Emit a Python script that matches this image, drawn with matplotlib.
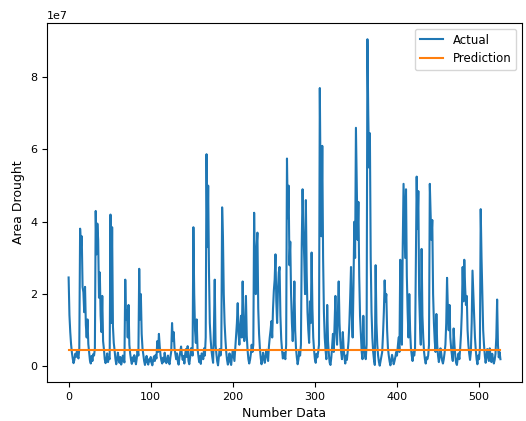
import numpy as np
import matplotlib
matplotlib.use("Agg")
import matplotlib.pyplot as plt

# drought area per record, in millions
actual_m = [
    24.6, 14.2, 9.5, 6.1, 3.8, 2.2, 0.9, 1.8, 3.5, 2.6,
    4.1, 3.0, 2.2, 5.0, 38.1, 33.0, 36.0, 22.0, 20.5, 15.0,
    22.0, 11.5, 8.0, 13.0, 6.2, 4.0, 1.6, 0.8, 2.9, 1.5,
    3.4, 3.0, 5.0, 43.0, 31.0, 39.5, 35.0, 19.0, 26.0, 14.0,
    9.5, 19.5, 7.0, 4.8, 2.0, 0.9, 1.7, 3.6, 1.2, 2.5,
    2.0, 42.0, 12.0, 38.5, 11.0, 6.5, 4.5, 2.1, 0.6, 1.9,
    3.8, 2.2, 1.0, 2.6, 0.5, 1.4, 3.0, 2.0, 1.1, 24.0,
    13.0, 15.5, 8.0, 17.0, 6.0, 3.5, 1.8, 0.7, 2.5, 1.4,
    3.1, 1.8, 0.6, 2.2, 4.5, 3.0, 27.0, 13.0, 20.0, 9.0,
    5.0, 3.2, 1.5, 0.4, 1.7, 2.9, 1.2, 0.5, 2.0, 1.4,
    2.6, 1.0, 0.3, 1.8, 2.8, 1.5, 3.2, 2.2, 7.0, 4.0,
    9.0, 5.5, 3.0, 1.6, 0.8, 2.4, 1.3, 3.8, 2.1, 0.9,
    1.8, 3.0, 1.2, 0.6, 2.6, 4.1, 12.0, 7.0, 9.5, 5.0,
    3.5, 2.0, 3.6, 1.5, 0.5, 2.5, 4.0, 5.5, 3.2, 1.8,
    2.9, 0.8, 3.4, 4.8, 2.6, 5.6, 1.5, 0.6, 2.4, 5.0,
    5.0, 3.0, 38.5, 20.0, 10.0, 6.5, 13.0, 5.0, 3.0, 1.2,
    2.8, 0.7, 3.6, 3.4, 2.0, 5.0, 3.0, 8.0, 58.7, 33.0,
    50.0, 26.0, 12.0, 7.5, 4.5, 2.6, 1.0, 10.0, 24.0, 6.0,
    3.5, 1.4, 0.3, 2.6, 4.8, 3.0, 5.0, 44.0, 36.0, 20.0,
    12.0, 7.5, 4.0, 1.8, 0.5, 2.2, 3.6, 1.2, 0.4, 2.8,
    4.5, 3.0, 1.5, 5.0, 8.5, 12.0, 17.5, 9.0, 6.0, 11.0,
    14.0, 8.0, 23.5, 12.0, 7.0, 10.0, 19.5, 8.5, 4.5, 2.0,
    0.8, 1.8, 3.5, 6.0, 4.0, 6.0, 42.5, 25.0, 20.0, 33.0,
    37.0, 16.0, 9.0, 5.0, 2.4, 0.6, 1.9, 3.8, 2.2, 1.0,
    2.7, 4.6, 3.2, 1.5, 5.5, 8.0, 10.0, 12.5, 8.0, 16.0,
    21.0, 24.0, 31.0, 18.0, 12.0, 21.0, 26.0, 27.5, 14.0, 7.5,
    4.5, 2.2, 3.8, 3.0, 2.0, 6.0, 57.5, 41.0, 50.0, 28.0,
    34.5, 20.0, 12.0, 7.0, 13.0, 23.5, 10.0, 5.0, 2.5, 0.6,
    2.0, 4.2, 3.0, 6.0, 34.0, 49.0, 38.0, 30.0, 20.0, 46.0,
    26.0, 15.0, 10.0, 6.5, 18.0, 12.0, 31.5, 16.0, 8.0, 4.5,
    2.0, 1.0, 3.5, 2.5, 4.0, 6.0, 77.0, 48.0, 36.0, 61.0,
    30.0, 15.0, 8.0, 4.5, 2.0, 17.0, 7.0, 3.5, 1.0, 0.4,
    2.5, 5.5, 9.0, 4.0, 12.0, 19.5, 10.0, 6.0, 15.0, 23.5,
    12.0, 7.0, 4.0, 2.0, 9.5, 5.0, 2.5, 0.8, 3.0, 1.8,
    4.2, 7.0, 12.0, 19.0, 27.5, 14.0, 8.0, 22.0, 40.0, 30.0,
    66.0, 50.0, 35.0, 45.5, 25.0, 14.0, 9.0, 4.0, 2.0, 14.0,
    6.0, 3.0, 2.0, 6.0, 90.5, 70.0, 55.0, 64.5, 30.0, 15.0,
    8.0, 4.0, 1.8, 0.4, 28.0, 12.0, 6.0, 3.0, 1.2, 0.2,
    1.5, 2.8, 4.0, 9.0, 15.0, 23.8, 18.0, 20.0, 10.0, 5.0,
    3.0, 1.4, 0.3, 1.8, 3.2, 2.0, 0.6, 1.5, 2.6, 4.0,
    3.0, 5.5, 8.0, 4.0, 29.5, 10.0, 6.0, 33.0, 50.5, 40.0,
    30.0, 49.0, 25.0, 15.0, 8.0, 20.0, 10.0, 5.0, 3.0, 1.5,
    4.0, 3.0, 5.0, 30.0, 52.5, 38.0, 48.5, 20.0, 12.0, 6.0,
    32.5, 14.0, 8.0, 4.0, 2.0, 0.8, 2.5, 2.0, 3.0, 6.0,
    50.5, 42.0, 35.0, 40.5, 20.0, 12.0, 7.0, 4.0, 14.5, 6.0,
    3.0, 1.2, 2.5, 5.0, 3.5, 1.6, 0.8, 2.0, 3.8, 6.0,
    12.0, 24.5, 16.0, 10.0, 17.0, 8.0, 5.0, 3.0, 1.5, 10.5,
    6.0, 3.0, 1.0, 0.4, 2.2, 3.6, 2.0, 5.0, 9.0, 15.0,
    27.5, 18.0, 29.5, 22.0, 17.0, 19.5, 10.0, 6.0, 3.5, 1.8,
    4.0, 12.0, 26.5, 20.0, 14.0, 8.0, 4.5, 2.0, 0.6, 3.0,
    2.0, 5.0, 43.5, 30.0, 19.5, 10.0, 6.0, 3.0, 1.0, 2.5,
    4.8, 3.0, 1.5, 5.0, 2.8, 1.2, 3.5, 2.0, 0.8, 1.8,
    3.5, 8.0, 18.5, 6.0, 2.5, 4.0, 2.0,
]
# model output is flat across all records
prediction_level_m = 4.6

actual = np.array(actual_m) * 1e6
prediction = np.full(len(actual), prediction_level_m * 1e6)
idx = np.arange(len(actual))

fig = plt.figure(figsize=(5.26, 4.21), dpi=100)
ax = fig.add_axes([0.0894, 0.0926, 0.903, 0.853])
ax.plot(idx, actual, label="Actual")
ax.plot(idx, prediction, label="Prediction")
ax.set_xlabel("Number Data", fontsize=9)
ax.set_ylabel("Area Drought", fontsize=9)
ax.tick_params(labelsize=8)
ax.yaxis.get_offset_text().set_fontsize(8)
ax.legend(loc="upper right", fontsize=8.5)

fig.savefig("out.png", dpi=100)
